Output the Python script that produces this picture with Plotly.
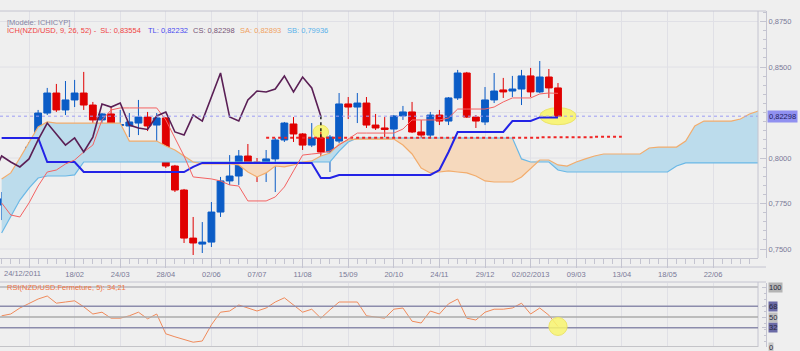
import plotly.graph_objects as go

# ---------------- data (weekly bars, index 0 = 24/12/2011 tick) ----------------
idx = list(range(-3, 59))
opens = [0.7742, 0.7775, 0.7797, 0.7940, 0.8060, 0.8247, 0.8357, 0.8264, 0.8319, 0.8357,
         0.8291, 0.8209, 0.8242, 0.8179, 0.8176, 0.8192, 0.8225, 0.8181, 0.8220, 0.7956,
         0.7824, 0.7560, 0.7527, 0.7538, 0.7703, 0.7874, 0.7901, 0.8011, 0.7978, 0.7951,
         0.7995, 0.8099, 0.8187, 0.8132, 0.8071, 0.8110, 0.8033, 0.8093, 0.8297, 0.8280,
         0.8302, 0.8181, 0.8165, 0.8159, 0.8231, 0.8253, 0.8143, 0.8126, 0.8236, 0.8203,
         0.8330, 0.8467, 0.8225, 0.8198, 0.8319, 0.8374, 0.8368, 0.8379, 0.8451, 0.8363,
         0.8445, 0.8385]
highs = [0.7813, 0.7907, 0.7951, 0.8088, 0.8264, 0.8385, 0.8407, 0.8423, 0.8429, 0.8473,
         0.8308, 0.8247, 0.8280, 0.8264, 0.8247, 0.8319, 0.8253, 0.8247, 0.8225, 0.7962,
         0.7830, 0.7676, 0.7648, 0.7758, 0.7896, 0.8016, 0.8044, 0.8077, 0.8000, 0.8044,
         0.8110, 0.8198, 0.8225, 0.8137, 0.8192, 0.8143, 0.8126, 0.8357, 0.8335, 0.8357,
         0.8335, 0.8242, 0.8225, 0.8236, 0.8286, 0.8308, 0.8209, 0.8253, 0.8264, 0.8335,
         0.8484, 0.8473, 0.8236, 0.8390, 0.8467, 0.8440, 0.8451, 0.8484, 0.8495, 0.8533,
         0.8489, 0.8412]
lows = [0.7659, 0.7714, 0.7786, 0.7918, 0.8033, 0.8236, 0.8253, 0.8236, 0.8280, 0.8264,
        0.8126, 0.8071, 0.8060, 0.8115, 0.8115, 0.8126, 0.8148, 0.8088, 0.7945, 0.7813,
        0.7533, 0.7467, 0.7478, 0.7511, 0.7676, 0.7852, 0.7852, 0.7962, 0.7868, 0.7868,
        0.7813, 0.8088, 0.8088, 0.8044, 0.8060, 0.7978, 0.7923, 0.8082, 0.8214, 0.8192,
        0.8165, 0.8154, 0.8115, 0.8110, 0.8209, 0.8137, 0.8060, 0.8115, 0.8181, 0.8181,
        0.8319, 0.8220, 0.8165, 0.8181, 0.8302, 0.8330, 0.8335, 0.8291, 0.8335, 0.8357,
        0.8330, 0.82298]
closes = [0.7775, 0.7797, 0.7940, 0.8060, 0.8247, 0.8357, 0.8264, 0.8319, 0.8357, 0.8291,
          0.8209, 0.8242, 0.8181, 0.8184, 0.8198, 0.8225, 0.8176, 0.8220, 0.7956, 0.7824,
          0.7560, 0.7533, 0.7538, 0.7703, 0.7874, 0.7901, 0.8011, 0.7978, 0.7951, 0.7995,
          0.8099, 0.8192, 0.8132, 0.8071, 0.8110, 0.8033, 0.8115, 0.8297, 0.8280, 0.8302,
          0.8181, 0.8165, 0.8157, 0.8231, 0.8253, 0.8143, 0.8126, 0.8236, 0.8203, 0.8330,
          0.8467, 0.8225, 0.8203, 0.8319, 0.8368, 0.8363, 0.8379, 0.8451, 0.8363, 0.8445,
          0.8385, 0.82298]

tenkan = [0.7753, 0.7687, 0.7676, 0.7753, 0.7846, 0.7923, 0.7934, 0.7967, 0.7989, 0.8033,
          0.8071, 0.8209, 0.8264, 0.8275, 0.8275, 0.8275, 0.8275, 0.8275, 0.8209, 0.8110,
          0.8011, 0.7896, 0.7890, 0.7885, 0.7874, 0.7852, 0.7846, 0.7764, 0.7764, 0.7764,
          0.7786, 0.7841, 0.7929, 0.8016, 0.8022, 0.8027, 0.8038, 0.8071, 0.8104, 0.8137,
          0.8137, 0.8137, 0.8137, 0.8137, 0.8159, 0.8209, 0.8209, 0.8209, 0.8209, 0.8220,
          0.8269, 0.8269, 0.8269, 0.8269, 0.8280, 0.8308, 0.8330, 0.8330, 0.8330, 0.8352,
          0.8357, 0.83554]
kijun = [0.8110, 0.8110, 0.8110, 0.8110, 0.8110, 0.7978, 0.7978, 0.7978, 0.7978, 0.7923,
         0.7923, 0.7923, 0.7923, 0.7923, 0.7923, 0.7923, 0.7923, 0.7923, 0.7923, 0.7923,
         0.7923, 0.7951, 0.7973, 0.7973, 0.7973, 0.7973, 0.7973, 0.7973, 0.7973, 0.7973,
         0.7973, 0.7973, 0.7973, 0.7973, 0.7973, 0.7890, 0.7890, 0.7907, 0.7907, 0.7907,
         0.7907, 0.7907, 0.7907, 0.7907, 0.7907, 0.7907, 0.7907, 0.7907, 0.7934, 0.8033,
         0.8143, 0.8143, 0.8143, 0.8143, 0.8143, 0.8143, 0.8203, 0.8203, 0.8203, 0.82232,
         0.82232, 0.82232]

cloud_idx = list(range(-3, 81))
senkou_a = [0.7885, 0.7918, 0.8000, 0.8082, 0.8170, 0.8198, 0.8192, 0.8192, 0.8192, 0.8192,
            0.8192, 0.8192, 0.8192, 0.8192, 0.8093, 0.8093, 0.8093, 0.8093, 0.8066, 0.8044,
            0.8011, 0.7978, 0.7967, 0.7967, 0.7967, 0.7967, 0.7962, 0.7923, 0.7896, 0.7918,
            0.7956, 0.7951, 0.7962, 0.7978, 0.7984, 0.8011, 0.8027, 0.8077, 0.8099, 0.8104,
            0.8104, 0.8104, 0.8104, 0.8104, 0.8071, 0.8022, 0.7945, 0.7918, 0.7923, 0.7929,
            0.7923, 0.7918, 0.7901, 0.7874, 0.7868, 0.7868, 0.7868, 0.7896, 0.7945, 0.7989,
            0.7989, 0.7962, 0.7956, 0.7978, 0.7995, 0.8011, 0.8022, 0.8022, 0.8022, 0.8022,
            0.8022, 0.8055, 0.8060, 0.8060, 0.8060, 0.8093, 0.8176, 0.8203, 0.8203, 0.8203,
            0.8203, 0.8214, 0.8242, 0.8258]
senkou_b = [0.7588, 0.7676, 0.7769, 0.7835, 0.7890, 0.7901, 0.7901, 0.7901, 0.7907, 0.7978,
            0.7978, 0.7978, 0.7978, 0.7978, 0.7978, 0.7978, 0.7978, 0.7978, 0.7978, 0.7978,
            0.7978, 0.7978, 0.7978, 0.7978, 0.7978, 0.7978, 0.7978, 0.7978, 0.7978, 0.7978,
            0.7978, 0.7978, 0.7978, 0.7978, 0.7978, 0.7978, 0.7978, 0.8038, 0.8088, 0.8110,
            0.8110, 0.8110, 0.8110, 0.8110, 0.8110, 0.8110, 0.8110, 0.8110, 0.8110, 0.8110,
            0.8110, 0.8110, 0.8110, 0.8110, 0.8110, 0.8110, 0.8110, 0.7995, 0.7978, 0.7978,
            0.7978, 0.7934, 0.7923, 0.7923, 0.7923, 0.7923, 0.7923, 0.7923, 0.7923, 0.7923,
            0.7923, 0.7923, 0.7923, 0.7923, 0.7956, 0.7973, 0.7973, 0.7973, 0.7973, 0.7973,
            0.7973, 0.7973, 0.7973, 0.7973]
# legend values of the spans (at the projected end of the cloud, off-screen)
sa_last = 0.82893
sb_last = 0.79936

rsi = [52, 55, 65, 73, 80, 85, 73, 75, 77, 67,
       55, 58, 48, 48, 52, 58, 47, 55, 22, 17,
       12, 8, 10, 37, 58, 60, 70, 65, 60, 65,
       75, 82, 70, 58, 63, 48, 62, 75, 75, 75,
       52, 50, 48, 63, 65, 43, 40, 60, 55, 72,
       80, 48, 45, 58, 63, 63, 65, 73, 55, 65,
       53, 34.21]
rsi_levels = [0, 32, 50, 68, 100]

level_x = [26, 56, 62, 65]
level_y = [0.8111, 0.8114, 0.8117, 0.8117]

tick_idx = [0, 5, 10, 15, 20, 25, 30, 35, 40, 45, 50, 55, 60, 65, 70, 75]
tick_labels = ["24/12/2011", "18/02", "24/03", "28/04", "02/06", "07/07", "11/08", "15/09",
               "20/10", "24/11", "29/12", "02/02/2013", "09/03", "13/04", "18/05", "22/06"]
price_ticks = [0.75, 0.775, 0.80, 0.85, 0.875]
price_grid = [0.75, 0.775, 0.80, 0.825, 0.85, 0.875]

SHIFT = 26

# ---------------- derived ----------------
chikou_x = [i - SHIFT for i in idx]
upper = [max(a, b) for a, b in zip(senkou_a, senkou_b)]


def fr(v, d=5):
    return f"{v:.{d}f}".replace(".", ",")


FONT = "Liberation Sans, Arial, sans-serif"
AXC = "#7a7a98"
GRID = "#e0e0e6"
LINEC = "#c4c4d0"

fig = go.Figure()

# cloud fills
fig.add_trace(go.Scatter(x=cloud_idx, y=senkou_b, mode="lines", line=dict(width=0),
                         hoverinfo="skip", showlegend=False))
fig.add_trace(go.Scatter(x=cloud_idx, y=upper, mode="lines", line=dict(width=0),
                         fill="tonexty", fillcolor="#bcdcec", hoverinfo="skip", showlegend=False))
fig.add_trace(go.Scatter(x=cloud_idx, y=senkou_a, mode="lines", line=dict(width=0),
                         hoverinfo="skip", showlegend=False))
fig.add_trace(go.Scatter(x=cloud_idx, y=upper, mode="lines", line=dict(width=0),
                         fill="tonexty", fillcolor="#f6d9bd", hoverinfo="skip", showlegend=False))
# cloud edges
fig.add_trace(go.Scatter(x=cloud_idx, y=senkou_b, mode="lines",
                         line=dict(color="#6ab8e6", width=1.2), showlegend=False))
fig.add_trace(go.Scatter(x=cloud_idx, y=senkou_a, mode="lines",
                         line=dict(color="#f2ac6c", width=1.2), showlegend=False))

# red dotted level
fig.add_trace(go.Scatter(x=level_x, y=level_y, mode="lines", line_shape="hv",
                         line=dict(color="#f02424", width=2, dash="dot"), showlegend=False))

# candles
fig.add_trace(go.Candlestick(
    x=idx, open=opens, high=highs, low=lows, close=closes,
    increasing=dict(line=dict(color="#0b5cc6", width=1), fillcolor="#0b5cc6"),
    decreasing=dict(line=dict(color="#e00000", width=1), fillcolor="#e00000"),
    whiskerwidth=0, showlegend=False))

# Kijun, Tenkan, Chikou
fig.add_trace(go.Scatter(x=idx, y=kijun, mode="lines",
                         line=dict(color="#2323e6", width=2), showlegend=False))
fig.add_trace(go.Scatter(x=idx, y=tenkan, mode="lines",
                         line=dict(color="#f46262", width=1), showlegend=False))
fig.add_trace(go.Scatter(x=chikou_x, y=closes, mode="lines",
                         line=dict(color="#5a1f55", width=1.6), showlegend=False))
# dotted link from chikou end to the level
fig.add_trace(go.Scatter(x=[chikou_x[-1], chikou_x[-1]], y=[closes[-1], level_y[0]],
                         mode="lines", line=dict(color="#202020", width=1.5, dash="dot"),
                         showlegend=False))

# RSI
fig.add_trace(go.Scatter(x=idx, y=rsi, mode="lines", xaxis="x2", yaxis="y2",
                         line=dict(color="#f08a5a", width=1), showlegend=False))

XD = [0, 0.9475]
MAIN_D = [1 - 258 / 351, 1 - 11 / 351]
RSI_D = [1 - 347 / 351, 1 - 283 / 351]
AXPOS = 766 / 800

shapes = []
# current price dotted line
shapes.append(dict(type="line", xref="paper", x0=0, x1=XD[1], yref="y",
                   y0=closes[-1], y1=closes[-1], line=dict(color="#9c9cf4", width=1, dash="dot")))
# frames
shapes.append(dict(type="line", xref="paper", yref="paper", x0=XD[1], x1=XD[1],
                   y0=MAIN_D[0], y1=MAIN_D[1], line=dict(color=LINEC, width=1)))
shapes.append(dict(type="line", xref="paper", yref="paper", x0=0, x1=AXPOS,
                   y0=MAIN_D[1], y1=MAIN_D[1], line=dict(color=LINEC, width=1)))
shapes.append(dict(type="line", xref="paper", yref="paper", x0=0, x1=AXPOS,
                   y0=1 - 267 / 351, y1=1 - 267 / 351, line=dict(color=LINEC, width=1)))
shapes.append(dict(type="line", xref="paper", yref="paper", x0=0, x1=AXPOS,
                   y0=1 - 282 / 351, y1=1 - 282 / 351, line=dict(color=LINEC, width=1)))
shapes.append(dict(type="line", xref="paper", yref="paper", x0=XD[1], x1=XD[1],
                   y0=RSI_D[0], y1=1 - 282 / 351, line=dict(color=LINEC, width=1)))
# RSI levels
lvl_style = {0: ("#c4c4c8", 2), 32: ("#8c8cac", 1.5), 50: ("#ababab", 1.3),
             68: ("#8c8cac", 1.5), 100: ("#c4c4c8", 2)}
for lv in rsi_levels:
    c, w = lvl_style[lv]
    shapes.append(dict(type="line", xref="paper", x0=0, x1=XD[1], yref="y2", y0=lv, y1=lv,
                       line=dict(color=c, width=w)))
# yellow highlights
hi32 = highs[idx.index(chikou_x[-1])]
shapes.append(dict(type="circle", xref="x", yref="y", layer="below",
                   x0=chikou_x[-1] - 0.85, x1=chikou_x[-1] + 0.85,
                   y0=hi32 - 0.0038, y1=hi32 + 0.0038,
                   fillcolor="rgba(248,244,110,0.9)", line=dict(color="#ece46a", width=1)))
shapes.append(dict(type="circle", xref="x", yref="y", layer="below",
                   x0=idx[-1] - 2.0, x1=idx[-1] + 2.0,
                   y0=closes[-1] - 0.0047, y1=closes[-1] + 0.0047,
                   fillcolor="rgba(248,244,110,0.9)", line=dict(color="#ece46a", width=1)))
shapes.append(dict(type="circle", xref="x2", yref="y2", layer="above",
                   x0=idx[-1] - 1.0, x1=idx[-1] + 1.0,
                   y0=rsi[-1] - 15, y1=rsi[-1] + 15,
                   fillcolor="rgba(248,244,110,0.85)", line=dict(color="#ece46a", width=1)))
# horizontal price grid (includes the level hidden under the price label)
for g in price_grid:
    shapes.append(dict(type="line", xref="paper", x0=0, x1=XD[1], yref="y", y0=g, y1=g,
                       layer="below", line=dict(color=GRID, width=1)))

ann = []
ann.append(dict(xref="paper", yref="paper", x=5 / 800, y=1 - 22.7 / 351, xanchor="left",
                yanchor="middle", showarrow=False, text="[Modèle: ICHICYP]",
                font=dict(family=FONT, size=7.5, color="#8484a4")))
leg = [(5, f"ICH(NZD/USD, 9, 26, 52) -  SL: {fr(tenkan[-1])}", "#f04444"),
       (146, f"TL: {fr(kijun[-1])}", "#4a4af0"),
       (191, f"CS: {fr(closes[-1])}", "#765476"),
       (238, f"SA: {fr(sa_last)}", "#f0a262"),
       (285, f"SB: {fr(sb_last)}", "#5ab2ea")]
for px, t, c in leg:
    ann.append(dict(xref="paper", yref="paper", x=px / 800, y=1 - 30.7 / 351, xanchor="left",
                    yanchor="middle", showarrow=False, text=t,
                    font=dict(family=FONT, size=7.5, color=c)))
ann.append(dict(xref="paper", yref="paper", x=5 / 800, y=1 - 287 / 351, xanchor="left",
                yanchor="middle", showarrow=False,
                text=f"RSI(NZD/USD.Fermeture, 5): {fr(rsi[-1], 2)}",
                font=dict(family=FONT, size=7.5, color="#f07444")))
# first date label is pushed against the left edge, as in the source chart
ann.append(dict(xref="paper", yref="paper", x=2 / 800, y=1 - 273.5 / 351, xanchor="left",
                yanchor="middle", showarrow=False, text=tick_labels[0],
                font=dict(family=FONT, size=7.5, color=AXC)))
# current price label
ann.append(dict(xref="paper", yref="y", x=767 / 800, y=closes[-1], xanchor="left",
                yanchor="middle", showarrow=False, text=fr(closes[-1]), bgcolor="#9090f0",
                borderpad=1, font=dict(family=FONT, size=7.5, color="#1c1c5c")))
# RSI level labels
lab_bg = {0: "#c8c8c8", 32: "#6a6aa6", 50: "#c0c0c0", 68: "#6a6aa6", 100: "#b4b4b4"}
for lv in rsi_levels:
    ann.append(dict(xref="paper", yref="y2", x=768 / 800, y=lv, xanchor="left",
                    yanchor="middle", showarrow=False, text=str(lv), bgcolor=lab_bg[lv],
                    borderpad=0, font=dict(family=FONT, size=7.5, color="#28283c")))

axis_text = [""] + tick_labels[1:]

fig.update_layout(
    width=800, height=351, autosize=False,
    margin=dict(l=0, r=0, t=0, b=0, pad=0),
    paper_bgcolor="#efefef", plot_bgcolor="#efefef",
    separators=", ",
    showlegend=False,
    boxgap=0.15, boxgroupgap=0.12,
    font=dict(family=FONT, size=7.5, color=AXC),
    shapes=shapes, annotations=ann,
    xaxis=dict(domain=XD, range=[-3.18, 79.93], anchor="y",
               tickmode="array", tickvals=tick_idx, ticktext=axis_text,
               ticks="outside", ticklen=9, tickcolor=LINEC, showline=True, linecolor=LINEC,
               showgrid=True, gridcolor=GRID, zeroline=False,
               tickfont=dict(family=FONT, size=7.5, color=AXC),
               minor=dict(tickmode="linear", tick0=0, dtick=1, ticklen=5, ticks="outside",
                          tickcolor=LINEC, showgrid=False),
               rangeslider=dict(visible=False), fixedrange=True),
    xaxis2=dict(domain=XD, matches="x", anchor="y2", tickmode="array", tickvals=tick_idx,
                showticklabels=False, ticks="", showgrid=True, gridcolor=GRID,
                zeroline=False, showline=False),
    yaxis=dict(domain=MAIN_D, range=[0.745055, 0.880769], side="right", anchor="free",
               position=AXPOS, showline=True, linecolor=LINEC, ticks="inside", ticklen=6,
               tickcolor=LINEC, tickmode="array", tickvals=price_ticks, tickformat=".4f",
               tickfont=dict(family=FONT, size=7.5, color=AXC),
               showgrid=False, zeroline=False,
               minor=dict(tickmode="linear", tick0=0.75, dtick=0.005, ticks="inside",
                          ticklen=3, tickcolor=LINEC, showgrid=False)),
    yaxis2=dict(domain=RSI_D, range=[0, 106.67], side="right", anchor="free",
                position=AXPOS, showline=True, linecolor=LINEC, ticks="inside", ticklen=4,
                tickcolor=LINEC, tickmode="array", tickvals=rsi_levels,
                showticklabels=False, showgrid=False, zeroline=False,
                minor=dict(tickmode="linear", tick0=0, dtick=10, ticks="inside", ticklen=2,
                           tickcolor=LINEC, showgrid=False)),
)

fig.write_html("out.html")
